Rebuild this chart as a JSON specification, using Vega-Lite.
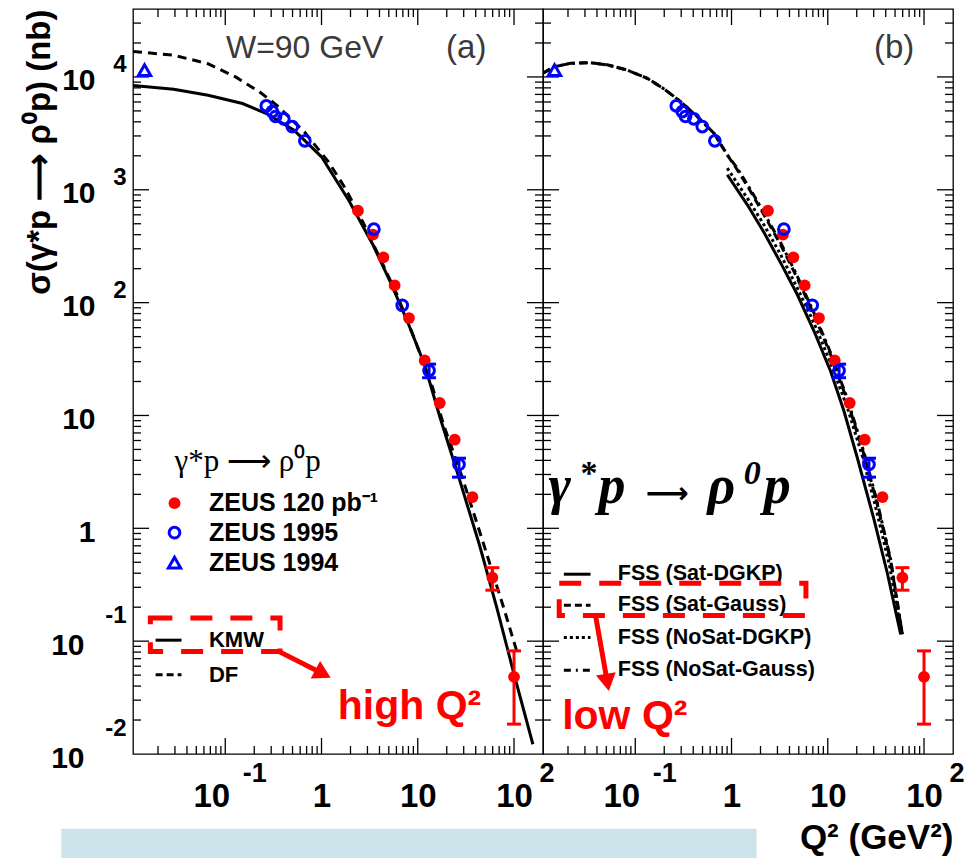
{
  "$schema": "https://vega.github.io/schema/vega-lite/v6.json",
  "padding": {"left": 22, "top": 7, "right": 1, "bottom": 0},
  "background": "white",
  "config": {
    "view": {"stroke": "black", "strokeWidth": 1.3},
    "axis": {"grid": false, "labelFlush": false, "labelOverlap": false, "labelBound": false, "domainColor": "black", "tickColor": "black", "labelColor": "black", "titleColor": "black", "labelFont": "Liberation Sans", "titleFont": "Liberation Sans", "labelFontWeight": "bold", "titleFontWeight": "bold"}
  },
  "datasets": {
    "xmaj": [{"v": 0.1}, {"v": 1}, {"v": 10}, {"v": 100}],
    "xmin": [{"v": 0.02}, {"v": 0.03}, {"v": 0.04}, {"v": 0.05}, {"v": 0.06}, {"v": 0.07}, {"v": 0.08}, {"v": 0.09},
             {"v": 0.2}, {"v": 0.3}, {"v": 0.4}, {"v": 0.5}, {"v": 0.6}, {"v": 0.7}, {"v": 0.8}, {"v": 0.9},
             {"v": 2}, {"v": 3}, {"v": 4}, {"v": 5}, {"v": 6}, {"v": 7}, {"v": 8}, {"v": 9},
             {"v": 20}, {"v": 30}, {"v": 40}, {"v": 50}, {"v": 60}, {"v": 70}, {"v": 80}, {"v": 90}],
    "ymaj": [{"v": 0.1}, {"v": 1}, {"v": 10}, {"v": 100}, {"v": 1000}, {"v": 10000}],
    "ymin": [{"v": 0.02}, {"v": 0.03}, {"v": 0.04}, {"v": 0.05}, {"v": 0.06}, {"v": 0.07}, {"v": 0.08}, {"v": 0.09},
             {"v": 0.2}, {"v": 0.3}, {"v": 0.4}, {"v": 0.5}, {"v": 0.6}, {"v": 0.7}, {"v": 0.8}, {"v": 0.9},
             {"v": 2}, {"v": 3}, {"v": 4}, {"v": 5}, {"v": 6}, {"v": 7}, {"v": 8}, {"v": 9},
             {"v": 20}, {"v": 30}, {"v": 40}, {"v": 50}, {"v": 60}, {"v": 70}, {"v": 80}, {"v": 90},
             {"v": 200}, {"v": 300}, {"v": 400}, {"v": 500}, {"v": 600}, {"v": 700}, {"v": 800}, {"v": 900},
             {"v": 2000}, {"v": 3000}, {"v": 4000}, {"v": 5000}, {"v": 6000}, {"v": 7000}, {"v": 8000}, {"v": 9000},
             {"v": 20000}, {"v": 30000}],
    "z120": [
      {"Q2": 2.39, "sigma": 652}, {"Q2": 3.42, "sigma": 400}, {"Q2": 4.39, "sigma": 252}, {"Q2": 5.75, "sigma": 142},
      {"Q2": 8.1, "sigma": 73}, {"Q2": 11.8, "sigma": 30.7}, {"Q2": 16.9, "sigma": 12.9}, {"Q2": 24.2, "sigma": 6.1},
      {"Q2": 37, "sigma": 1.89}, {"Q2": 59.6, "sigma": 0.366, "lo": 0.283, "hi": 0.448}, {"Q2": 100, "sigma": 0.0483, "lo": 0.0184, "hi": 0.082}
    ],
    "z95": [
      {"Q2": 0.267, "sigma": 5540}, {"Q2": 0.308, "sigma": 4930}, {"Q2": 0.333, "sigma": 4460}, {"Q2": 0.406, "sigma": 4250},
      {"Q2": 0.497, "sigma": 3630}, {"Q2": 0.671, "sigma": 2715}, {"Q2": 3.5, "sigma": 448}, {"Q2": 6.9, "sigma": 94.6},
      {"Q2": 13.1, "sigma": 25, "lo": 21.6, "hi": 28.5}, {"Q2": 26.8, "sigma": 3.68, "lo": 2.84, "hi": 4.18}
    ],
    "z94": [{"Q2": 0.0145, "sigma": 11500}],
    "kmw": [
      {"Q2": 0.011, "sigma": 8400}, {"Q2": 0.0291, "sigma": 7780}, {"Q2": 0.0663, "sigma": 6880}, {"Q2": 0.151, "sigma": 5810},
      {"Q2": 0.268, "sigma": 4740}, {"Q2": 0.518, "sigma": 3370}, {"Q2": 1.0, "sigma": 1960}, {"Q2": 1.93, "sigma": 800},
      {"Q2": 3.43, "sigma": 324}, {"Q2": 5.18, "sigma": 153}, {"Q2": 7.81, "sigma": 68}, {"Q2": 11.8, "sigma": 28},
      {"Q2": 17.1, "sigma": 9.5}, {"Q2": 26.8, "sigma": 2.8}, {"Q2": 44, "sigma": 0.7}, {"Q2": 66, "sigma": 0.2},
      {"Q2": 100, "sigma": 0.051}, {"Q2": 157, "sigma": 0.0122}
    ],
    "df": [
      {"Q2": 0.011, "sigma": 16800}, {"Q2": 0.029, "sigma": 15600}, {"Q2": 0.066, "sigma": 13100}, {"Q2": 0.128, "sigma": 10000},
      {"Q2": 0.228, "sigma": 7360}, {"Q2": 0.343, "sigma": 5610}, {"Q2": 0.663, "sigma": 3260}, {"Q2": 1.18, "sigma": 1770},
      {"Q2": 1.77, "sigma": 1028}, {"Q2": 2.68, "sigma": 521}, {"Q2": 4.05, "sigma": 247}, {"Q2": 6.1, "sigma": 117},
      {"Q2": 9.2, "sigma": 48.3}, {"Q2": 13.9, "sigma": 19}, {"Q2": 18.6, "sigma": 8.2}, {"Q2": 29.1, "sigma": 2.8},
      {"Q2": 47.7, "sigma": 0.75}, {"Q2": 78, "sigma": 0.198}, {"Q2": 109, "sigma": 0.0767}
    ],
    "satgauss": [
      {"Q2": 0.011, "sigma": 10800}, {"Q2": 0.0143, "sigma": 12300}, {"Q2": 0.0213, "sigma": 13200}, {"Q2": 0.033, "sigma": 13400},
      {"Q2": 0.0512, "sigma": 12800}, {"Q2": 0.0826, "sigma": 11500}, {"Q2": 0.133, "sigma": 9730}, {"Q2": 0.199, "sigma": 7830},
      {"Q2": 0.296, "sigma": 6050}, {"Q2": 0.44, "sigma": 4460}, {"Q2": 0.656, "sigma": 3170}, {"Q2": 0.903, "sigma": 2040},
      {"Q2": 1.15, "sigma": 1500}, {"Q2": 1.58, "sigma": 966}, {"Q2": 2.17, "sigma": 601}, {"Q2": 3.24, "sigma": 326},
      {"Q2": 4.82, "sigma": 165}, {"Q2": 7.19, "sigma": 78}, {"Q2": 10.7, "sigma": 34.7}, {"Q2": 16, "sigma": 13.4},
      {"Q2": 23.8, "sigma": 4.5}, {"Q2": 32.7, "sigma": 1.63}, {"Q2": 45, "sigma": 0.514}, {"Q2": 59.5, "sigma": 0.115}
    ],
    "nosatgauss": [
      {"Q2": 0.011, "sigma": 10800}, {"Q2": 0.0143, "sigma": 12300}, {"Q2": 0.0213, "sigma": 13200}, {"Q2": 0.033, "sigma": 13400},
      {"Q2": 0.0512, "sigma": 12800}, {"Q2": 0.0826, "sigma": 11500}, {"Q2": 0.133, "sigma": 9730}, {"Q2": 0.199, "sigma": 7830},
      {"Q2": 0.296, "sigma": 6050}, {"Q2": 0.44, "sigma": 4460}, {"Q2": 0.656, "sigma": 3170}, {"Q2": 0.903, "sigma": 2040},
      {"Q2": 1.15, "sigma": 1550}, {"Q2": 1.58, "sigma": 1000}, {"Q2": 2.17, "sigma": 625}, {"Q2": 3.24, "sigma": 340},
      {"Q2": 4.82, "sigma": 172}, {"Q2": 7.19, "sigma": 81}, {"Q2": 10.7, "sigma": 36}, {"Q2": 16, "sigma": 14},
      {"Q2": 23.8, "sigma": 4.7}, {"Q2": 32.7, "sigma": 1.7}, {"Q2": 45, "sigma": 0.53}, {"Q2": 59.5, "sigma": 0.115}
    ],
    "satdgkp": [
      {"Q2": 0.903, "sigma": 1358}, {"Q2": 1.46, "sigma": 736}, {"Q2": 2.17, "sigma": 420}, {"Q2": 3.24, "sigma": 225},
      {"Q2": 4.82, "sigma": 118}, {"Q2": 7.19, "sigma": 56}, {"Q2": 10.7, "sigma": 24.7}, {"Q2": 14.7, "sigma": 11.0},
      {"Q2": 20.3, "sigma": 4.2}, {"Q2": 30.2, "sigma": 1.2}, {"Q2": 41.6, "sigma": 0.4}, {"Q2": 57.2, "sigma": 0.115}
    ],
    "nosatdgkp": [
      {"Q2": 0.903, "sigma": 1556}, {"Q2": 1.46, "sigma": 843}, {"Q2": 2.17, "sigma": 490}, {"Q2": 3.24, "sigma": 266},
      {"Q2": 4.82, "sigma": 135}, {"Q2": 7.19, "sigma": 66}, {"Q2": 10.7, "sigma": 29.2}, {"Q2": 16, "sigma": 11.7},
      {"Q2": 23, "sigma": 4.3}, {"Q2": 32, "sigma": 1.45}, {"Q2": 44, "sigma": 0.46}, {"Q2": 58.5, "sigma": 0.115}
    ]
  },
  "spacing": 0,
  "bounds": "flush",
  "hconcat": [
    {
      "width": 410, "height": 745,
      "resolve": {"axis": {"x": "independent", "y": "independent"}},
      "layer": [
        {"data": {"name": "z94"}, "mark": {"type": "point", "opacity": 0},
         "encoding": {
           "x": {"field": "Q2", "type": "quantitative", "scale": {"type": "log", "domain": [0.011, 200], "nice": false},
                 "axis": {"orient": "bottom", "values": [0.1, 1, 10, 100], "domain": false, "labels": false, "ticks": false, "title": null}},
           "y": {"field": "sigma", "type": "quantitative", "scale": {"type": "log", "domain": [0.01, 40000], "nice": false},
                 "axis": {"orient": "left", "values": [0.01, 0.1, 1, 10, 100, 1000, 10000], "domain": false, "labels": false, "ticks": false,
                          "title": "σ(γ*p ⟶ ρ⁰p) (nb)", "titleFontSize": 33, "titleAnchor": "end", "titlePadding": 77}}
         }},
        {"data": {"name": "z94"}, "mark": {"type": "point", "opacity": 0},
         "encoding": {
           "x": {"field": "Q2", "type": "quantitative", "scale": {"type": "log", "domain": [0.011, 200], "nice": false},
                 "axis": {"orient": "bottom", "values": [0.1, 1, 10, 100], "domain": false, "ticks": false,
                          "labelExpr": "datum.value == 1 ? '1' : '10'", "labelFontSize": 33, "labelAlign": "center", "labelBaseline": "top", "labelPadding": 26,
                          "labelOffset": {"condition": {"test": "datum.value == 0.1", "value": -14}, "value": 0}, "title": null}},
           "y": {"field": "sigma", "type": "quantitative", "scale": {"type": "log", "domain": [0.01, 40000], "nice": false},
                 "axis": {"orient": "left", "values": [0.01, 0.1, 1, 10, 100, 1000, 10000], "domain": false, "ticks": false,
                          "labelExpr": "datum.value == 1 ? '1' : '10'", "labelFontSize": 30, "labelAlign": "right", "labelBaseline": "middle",
                          "labelPadding": {"condition": {"test": "datum.value < 1", "value": 49}, "value": 38}, "labelOffset": 4, "title": null}}
         }},
        {"data": {"name": "z94"}, "mark": {"type": "point", "opacity": 0},
         "encoding": {
           "x": {"field": "Q2", "type": "quantitative", "scale": {"type": "log", "domain": [0.011, 200], "nice": false},
                 "axis": {"orient": "bottom", "values": [0.1, 100], "domain": false, "ticks": false,
                          "labelExpr": "datum.value == 0.1 ? '-1' : '2'", "labelFontSize": 27, "labelAlign": "left", "labelBaseline": "top", "labelPadding": 6,
                          "labelOffset": {"condition": {"test": "datum.value == 0.1", "value": 17}, "value": 25}, "title": null}},
           "y": {"field": "sigma", "type": "quantitative", "scale": {"type": "log", "domain": [0.01, 40000], "nice": false},
                 "axis": {"orient": "left", "values": [0.01, 0.1, 100, 1000, 10000], "domain": false, "ticks": false,
                          "labelExpr": "datum.value == 0.01 ? '-2' : datum.value == 0.1 ? '-1' : datum.value == 100 ? '2' : datum.value == 1000 ? '3' : '4'",
                          "labelFontSize": 24, "labelAlign": "right", "labelBaseline": "middle", "labelPadding": 7,
                          "labelOffset": {"condition": {"test": "datum.value < 1", "value": -26}, "value": -12}, "title": null}}
         }},
        {"data": {"name": "xmaj"}, "mark": {"type": "rule", "color": "black", "strokeWidth": 1.3},
         "encoding": {"x": {"field": "v", "type": "quantitative", "scale": {"type": "log", "domain": [0.011, 200], "nice": false}, "axis": null},
                      "y": {"datum": 0.01, "type": "quantitative", "scale": {"type": "log", "domain": [0.01, 40000], "nice": false}, "axis": null},
                      "y2": {"datum": 0.01386}}},
        {"data": {"name": "xmin"}, "mark": {"type": "rule", "color": "black", "strokeWidth": 1.3},
         "encoding": {"x": {"field": "v", "type": "quantitative", "scale": {"type": "log", "domain": [0.011, 200], "nice": false}, "axis": null},
                      "y": {"datum": 0.01, "type": "quantitative", "scale": {"type": "log", "domain": [0.01, 40000], "nice": false}, "axis": null},
                      "y2": {"datum": 0.01177}}},
        {"data": {"name": "xmaj"}, "mark": {"type": "rule", "color": "black", "strokeWidth": 1.3},
         "encoding": {"x": {"field": "v", "type": "quantitative", "scale": {"type": "log", "domain": [0.011, 200], "nice": false}, "axis": null},
                      "y": {"datum": 40000, "type": "quantitative", "scale": {"type": "log", "domain": [0.01, 40000], "nice": false}, "axis": null},
                      "y2": {"datum": 28860}}},
        {"data": {"name": "xmin"}, "mark": {"type": "rule", "color": "black", "strokeWidth": 1.3},
         "encoding": {"x": {"field": "v", "type": "quantitative", "scale": {"type": "log", "domain": [0.011, 200], "nice": false}, "axis": null},
                      "y": {"datum": 40000, "type": "quantitative", "scale": {"type": "log", "domain": [0.01, 40000], "nice": false}, "axis": null},
                      "y2": {"datum": 33985}}},
        {"data": {"name": "ymaj"}, "mark": {"type": "rule", "color": "black", "strokeWidth": 1.3},
         "encoding": {"y": {"field": "v", "type": "quantitative", "scale": {"type": "log", "domain": [0.01, 40000], "nice": false}, "axis": null},
                      "x": {"datum": 0.011, "type": "quantitative", "scale": {"type": "log", "domain": [0.011, 200], "nice": false}, "axis": null},
                      "x2": {"datum": 0.01613}}},
        {"data": {"name": "ymin"}, "mark": {"type": "rule", "color": "black", "strokeWidth": 1.3},
         "encoding": {"y": {"field": "v", "type": "quantitative", "scale": {"type": "log", "domain": [0.01, 40000], "nice": false}, "axis": null},
                      "x": {"datum": 0.011, "type": "quantitative", "scale": {"type": "log", "domain": [0.011, 200], "nice": false}, "axis": null},
                      "x2": {"datum": 0.01332}}},
        {"data": {"name": "ymaj"}, "mark": {"type": "rule", "color": "black", "strokeWidth": 1.3},
         "encoding": {"y": {"field": "v", "type": "quantitative", "scale": {"type": "log", "domain": [0.01, 40000], "nice": false}, "axis": null},
                      "x": {"datum": 200, "type": "quantitative", "scale": {"type": "log", "domain": [0.011, 200], "nice": false}, "axis": null},
                      "x2": {"datum": 136.4}}},
        {"data": {"name": "ymin"}, "mark": {"type": "rule", "color": "black", "strokeWidth": 1.3},
         "encoding": {"y": {"field": "v", "type": "quantitative", "scale": {"type": "log", "domain": [0.01, 40000], "nice": false}, "axis": null},
                      "x": {"datum": 200, "type": "quantitative", "scale": {"type": "log", "domain": [0.011, 200], "nice": false}, "axis": null},
                      "x2": {"datum": 165.2}}},
        {"data": {"values": [{}]}, "mark": {"type": "rect", "color": "#cde5ea"},
         "encoding": {
           "x": {"datum": 0.00198, "type": "quantitative", "scale": {"type": "log", "domain": [0.011, 200], "nice": false}, "axis": null},
           "x2": {"datum": 33180},
           "y": {"datum": 0.00218, "type": "quantitative", "scale": {"type": "log", "domain": [0.01, 40000], "nice": false}, "axis": null},
           "y2": {"datum": 0.00116}
         }},
        {"data": {"name": "kmw"}, "mark": {"type": "line", "color": "black", "strokeWidth": 3, "clip": true},
         "encoding": {
           "x": {"field": "Q2", "type": "quantitative", "scale": {"type": "log", "domain": [0.011, 200], "nice": false}, "axis": null},
           "y": {"field": "sigma", "type": "quantitative", "scale": {"type": "log", "domain": [0.01, 40000], "nice": false}, "axis": null}
         }},
        {"data": {"name": "df"}, "mark": {"type": "line", "color": "black", "strokeWidth": 3, "strokeDash": [9, 6], "clip": true},
         "encoding": {
           "x": {"field": "Q2", "type": "quantitative", "scale": {"type": "log", "domain": [0.011, 200], "nice": false}, "axis": null},
           "y": {"field": "sigma", "type": "quantitative", "scale": {"type": "log", "domain": [0.01, 40000], "nice": false}, "axis": null}
         }},
        {"data": {"name": "z120"}, "transform": [{"filter": "datum.lo != null"}], "mark": {"type": "rule", "color": "#ff0000", "strokeWidth": 3},
         "encoding": {
           "x": {"field": "Q2", "type": "quantitative", "scale": {"type": "log", "domain": [0.011, 200], "nice": false}, "axis": null},
           "y": {"field": "lo", "type": "quantitative", "scale": {"type": "log", "domain": [0.01, 40000], "nice": false}, "axis": null},
           "y2": {"field": "hi"}
         }},
        {"data": {"name": "z120"}, "transform": [{"filter": "datum.lo != null"}], "mark": {"type": "tick", "orient": "horizontal", "color": "#ff0000", "size": 14, "thickness": 3, "opacity": 1},
         "encoding": {
           "x": {"field": "Q2", "type": "quantitative", "scale": {"type": "log", "domain": [0.011, 200], "nice": false}, "axis": null},
           "y": {"field": "lo", "type": "quantitative", "scale": {"type": "log", "domain": [0.01, 40000], "nice": false}, "axis": null}
         }},
        {"data": {"name": "z120"}, "transform": [{"filter": "datum.lo != null"}], "mark": {"type": "tick", "orient": "horizontal", "color": "#ff0000", "size": 14, "thickness": 3, "opacity": 1},
         "encoding": {
           "x": {"field": "Q2", "type": "quantitative", "scale": {"type": "log", "domain": [0.011, 200], "nice": false}, "axis": null},
           "y": {"field": "hi", "type": "quantitative", "scale": {"type": "log", "domain": [0.01, 40000], "nice": false}, "axis": null}
         }},
        {"data": {"name": "z95"}, "transform": [{"filter": "datum.lo != null"}], "mark": {"type": "rule", "color": "#0000ff", "strokeWidth": 3},
         "encoding": {
           "x": {"field": "Q2", "type": "quantitative", "scale": {"type": "log", "domain": [0.011, 200], "nice": false}, "axis": null},
           "y": {"field": "lo", "type": "quantitative", "scale": {"type": "log", "domain": [0.01, 40000], "nice": false}, "axis": null},
           "y2": {"field": "hi"}
         }},
        {"data": {"name": "z95"}, "transform": [{"filter": "datum.lo != null"}], "mark": {"type": "tick", "orient": "horizontal", "color": "#0000ff", "size": 14, "thickness": 3, "opacity": 1},
         "encoding": {
           "x": {"field": "Q2", "type": "quantitative", "scale": {"type": "log", "domain": [0.011, 200], "nice": false}, "axis": null},
           "y": {"field": "lo", "type": "quantitative", "scale": {"type": "log", "domain": [0.01, 40000], "nice": false}, "axis": null}
         }},
        {"data": {"name": "z95"}, "transform": [{"filter": "datum.lo != null"}], "mark": {"type": "tick", "orient": "horizontal", "color": "#0000ff", "size": 14, "thickness": 3, "opacity": 1},
         "encoding": {
           "x": {"field": "Q2", "type": "quantitative", "scale": {"type": "log", "domain": [0.011, 200], "nice": false}, "axis": null},
           "y": {"field": "hi", "type": "quantitative", "scale": {"type": "log", "domain": [0.01, 40000], "nice": false}, "axis": null}
         }},
        {"data": {"name": "z120"}, "mark": {"type": "point", "shape": "circle", "filled": true, "color": "#ff0000", "size": 140, "opacity": 1},
         "encoding": {
           "x": {"field": "Q2", "type": "quantitative", "scale": {"type": "log", "domain": [0.011, 200], "nice": false}, "axis": null},
           "y": {"field": "sigma", "type": "quantitative", "scale": {"type": "log", "domain": [0.01, 40000], "nice": false}, "axis": null}
         }},
        {"data": {"name": "z95"}, "mark": {"type": "point", "shape": "circle", "filled": false, "color": "#0000ff", "strokeWidth": 3, "size": 115, "opacity": 1},
         "encoding": {
           "x": {"field": "Q2", "type": "quantitative", "scale": {"type": "log", "domain": [0.011, 200], "nice": false}, "axis": null},
           "y": {"field": "sigma", "type": "quantitative", "scale": {"type": "log", "domain": [0.01, 40000], "nice": false}, "axis": null}
         }},
        {"data": {"name": "z94"}, "mark": {"type": "point", "shape": "triangle-up", "filled": false, "color": "#0000ff", "strokeWidth": 3, "size": 150, "opacity": 1},
         "encoding": {
           "x": {"field": "Q2", "type": "quantitative", "scale": {"type": "log", "domain": [0.011, 200], "nice": false}, "axis": null},
           "y": {"field": "sigma", "type": "quantitative", "scale": {"type": "log", "domain": [0.01, 40000], "nice": false}, "axis": null}
         }},
        {"data": {"values": [{}]}, "mark": {"type": "text", "text": "W=90 GeV", "font": "Liberation Sans", "fontSize": 32, "align": "left", "baseline": "alphabetic", "color": "#3a3a3a"},
         "encoding": {"x": {"datum": 0.1016, "type": "quantitative", "scale": {"type": "log", "domain": [0.011, 200], "nice": false}, "axis": null},
                      "y": {"datum": 14800, "type": "quantitative", "scale": {"type": "log", "domain": [0.01, 40000], "nice": false}, "axis": null}}},
        {"data": {"values": [{}]}, "mark": {"type": "text", "text": "(a)", "font": "Liberation Sans", "fontSize": 33, "align": "left", "baseline": "alphabetic", "color": "#3a3a3a"},
         "encoding": {"x": {"datum": 19.7, "type": "quantitative", "scale": {"type": "log", "domain": [0.011, 200], "nice": false}, "axis": null},
                      "y": {"datum": 14800, "type": "quantitative", "scale": {"type": "log", "domain": [0.01, 40000], "nice": false}, "axis": null}}},
        {"data": {"values": [{}]}, "mark": {"type": "text", "text": "γ*p ⟶ ρ⁰p", "font": "Liberation Serif", "fontSize": 31, "align": "left", "baseline": "alphabetic", "color": "black"},
         "encoding": {"x": {"datum": 0.0297, "type": "quantitative", "scale": {"type": "log", "domain": [0.011, 200], "nice": false}, "axis": null},
                      "y": {"datum": 3.21, "type": "quantitative", "scale": {"type": "log", "domain": [0.01, 40000], "nice": false}, "axis": null}}},
        {"data": {"values": [{}]}, "mark": {"type": "point", "shape": "circle", "filled": true, "color": "#ff0000", "size": 140, "opacity": 1},
         "encoding": {"x": {"datum": 0.0297, "type": "quantitative", "scale": {"type": "log", "domain": [0.011, 200], "nice": false}, "axis": null},
                      "y": {"datum": 1.67, "type": "quantitative", "scale": {"type": "log", "domain": [0.01, 40000], "nice": false}, "axis": null}}},
        {"data": {"values": [{}]}, "mark": {"type": "point", "shape": "circle", "filled": false, "color": "#0000ff", "strokeWidth": 3, "size": 115, "opacity": 1},
         "encoding": {"x": {"datum": 0.0297, "type": "quantitative", "scale": {"type": "log", "domain": [0.011, 200], "nice": false}, "axis": null},
                      "y": {"datum": 0.914, "type": "quantitative", "scale": {"type": "log", "domain": [0.01, 40000], "nice": false}, "axis": null}}},
        {"data": {"values": [{}]}, "mark": {"type": "point", "shape": "triangle-up", "filled": false, "color": "#0000ff", "strokeWidth": 3, "size": 150, "opacity": 1},
         "encoding": {"x": {"datum": 0.0297, "type": "quantitative", "scale": {"type": "log", "domain": [0.011, 200], "nice": false}, "axis": null},
                      "y": {"datum": 0.497, "type": "quantitative", "scale": {"type": "log", "domain": [0.01, 40000], "nice": false}, "axis": null}}},
        {"data": {"values": [{}]}, "mark": {"type": "text", "text": "ZEUS 120 pb⁻¹", "font": "Liberation Sans", "fontWeight": "bold", "fontSize": 25, "align": "left", "baseline": "middle", "color": "black"},
         "encoding": {"x": {"datum": 0.0677, "type": "quantitative", "scale": {"type": "log", "domain": [0.011, 200], "nice": false}, "axis": null},
                      "y": {"datum": 1.67, "type": "quantitative", "scale": {"type": "log", "domain": [0.01, 40000], "nice": false}, "axis": null}}},
        {"data": {"values": [{}]}, "mark": {"type": "text", "text": "ZEUS 1995", "font": "Liberation Sans", "fontWeight": "bold", "fontSize": 25, "align": "left", "baseline": "middle", "color": "black"},
         "encoding": {"x": {"datum": 0.0677, "type": "quantitative", "scale": {"type": "log", "domain": [0.011, 200], "nice": false}, "axis": null},
                      "y": {"datum": 0.914, "type": "quantitative", "scale": {"type": "log", "domain": [0.01, 40000], "nice": false}, "axis": null}}},
        {"data": {"values": [{}]}, "mark": {"type": "text", "text": "ZEUS 1994", "font": "Liberation Sans", "fontWeight": "bold", "fontSize": 25, "align": "left", "baseline": "middle", "color": "black"},
         "encoding": {"x": {"datum": 0.0677, "type": "quantitative", "scale": {"type": "log", "domain": [0.011, 200], "nice": false}, "axis": null},
                      "y": {"datum": 0.497, "type": "quantitative", "scale": {"type": "log", "domain": [0.01, 40000], "nice": false}, "axis": null}}},
        {"data": {"values": [{}]}, "mark": {"type": "rule", "color": "black", "strokeWidth": 3},
         "encoding": {"x": {"datum": 0.0189, "type": "quantitative", "scale": {"type": "log", "domain": [0.011, 200], "nice": false}, "axis": null},
                      "x2": {"datum": 0.0351},
                      "y": {"datum": 0.102, "type": "quantitative", "scale": {"type": "log", "domain": [0.01, 40000], "nice": false}, "axis": null}}},
        {"data": {"values": [{}]}, "mark": {"type": "text", "text": "KMW", "font": "Liberation Sans", "fontWeight": "bold", "fontSize": 22, "align": "left", "baseline": "middle", "color": "black"},
         "encoding": {"x": {"datum": 0.0677, "type": "quantitative", "scale": {"type": "log", "domain": [0.011, 200], "nice": false}, "axis": null},
                      "y": {"datum": 0.102, "type": "quantitative", "scale": {"type": "log", "domain": [0.01, 40000], "nice": false}, "axis": null}}},
        {"data": {"values": [{}]}, "mark": {"type": "rule", "color": "black", "strokeWidth": 3, "strokeDash": [7, 4]},
         "encoding": {"x": {"datum": 0.0189, "type": "quantitative", "scale": {"type": "log", "domain": [0.011, 200], "nice": false}, "axis": null},
                      "x2": {"datum": 0.0351},
                      "y": {"datum": 0.0503, "type": "quantitative", "scale": {"type": "log", "domain": [0.01, 40000], "nice": false}, "axis": null}}},
        {"data": {"values": [{}]}, "mark": {"type": "text", "text": "DF", "font": "Liberation Sans", "fontWeight": "bold", "fontSize": 22, "align": "left", "baseline": "middle", "color": "black"},
         "encoding": {"x": {"datum": 0.0677, "type": "quantitative", "scale": {"type": "log", "domain": [0.011, 200], "nice": false}, "axis": null},
                      "y": {"datum": 0.0503, "type": "quantitative", "scale": {"type": "log", "domain": [0.01, 40000], "nice": false}, "axis": null}}},
        {"data": {"values": [{}]}, "mark": {"type": "rect", "filled": false, "color": "#ff0000", "strokeWidth": 5, "strokeDash": [22, 18]},
         "encoding": {"x": {"datum": 0.01667, "type": "quantitative", "scale": {"type": "log", "domain": [0.011, 200], "nice": false}, "axis": null},
                      "x2": {"datum": 0.3707},
                      "y": {"datum": 0.16, "type": "quantitative", "scale": {"type": "log", "domain": [0.01, 40000], "nice": false}, "axis": null},
                      "y2": {"datum": 0.0809}}},
        {"data": {"values": [{}]}, "mark": {"type": "rule", "color": "#ff0000", "strokeWidth": 5},
         "encoding": {"x": {"datum": 0.35, "type": "quantitative", "scale": {"type": "log", "domain": [0.011, 200], "nice": false}, "axis": null},
                      "x2": {"datum": 1.037},
                      "y": {"datum": 0.082, "type": "quantitative", "scale": {"type": "log", "domain": [0.01, 40000], "nice": false}, "axis": null},
                      "y2": {"datum": 0.0514}}},
        {"data": {"values": [{}]}, "mark": {"type": "point", "shape": "triangle-up", "filled": true, "color": "#ff0000", "size": 400, "angle": 118, "opacity": 1},
         "encoding": {"x": {"datum": 1.037, "type": "quantitative", "scale": {"type": "log", "domain": [0.011, 200], "nice": false}, "axis": null},
                      "y": {"datum": 0.0514, "type": "quantitative", "scale": {"type": "log", "domain": [0.01, 40000], "nice": false}, "axis": null}}},
        {"data": {"values": [{}]}, "mark": {"type": "text", "text": "high Q²", "font": "Liberation Sans", "fontWeight": "bold", "fontSize": 41, "align": "left", "baseline": "alphabetic", "color": "#ff0000"},
         "encoding": {"x": {"datum": 1.476, "type": "quantitative", "scale": {"type": "log", "domain": [0.011, 200], "nice": false}, "axis": null},
                      "y": {"datum": 0.0205, "type": "quantitative", "scale": {"type": "log", "domain": [0.01, 40000], "nice": false}, "axis": null}}}
      ]
    },
    {
      "width": 410, "height": 745,
      "resolve": {"axis": {"x": "independent", "y": "independent"}},
      "layer": [
        {"data": {"name": "z94"}, "mark": {"type": "point", "opacity": 0},
         "encoding": {
           "x": {"field": "Q2", "type": "quantitative", "scale": {"type": "log", "domain": [0.011, 200], "nice": false},
                 "axis": {"orient": "bottom", "values": [0.1, 1, 10, 100], "domain": false, "labels": false, "ticks": false,
                          "title": "Q² (GeV²)", "titleFontSize": 35, "titleAnchor": "end", "titleBaseline": "top", "titlePadding": 66}},
           "y": {"field": "sigma", "type": "quantitative", "scale": {"type": "log", "domain": [0.01, 40000], "nice": false}, "axis": null}
         }},
        {"data": {"name": "z94"}, "mark": {"type": "point", "opacity": 0},
         "encoding": {
           "x": {"field": "Q2", "type": "quantitative", "scale": {"type": "log", "domain": [0.011, 200], "nice": false},
                 "axis": {"orient": "bottom", "values": [0.1, 1, 10, 100], "domain": false, "ticks": false,
                          "labelExpr": "datum.value == 1 ? '1' : '10'", "labelFontSize": 33, "labelAlign": "center", "labelBaseline": "top", "labelPadding": 26,
                          "labelOffset": {"condition": {"test": "datum.value == 0.1", "value": -14}, "value": 0}, "title": null}},
           "y": {"field": "sigma", "type": "quantitative", "scale": {"type": "log", "domain": [0.01, 40000], "nice": false}, "axis": null}
         }},
        {"data": {"name": "z94"}, "mark": {"type": "point", "opacity": 0},
         "encoding": {
           "x": {"field": "Q2", "type": "quantitative", "scale": {"type": "log", "domain": [0.011, 200], "nice": false},
                 "axis": {"orient": "bottom", "values": [0.1, 100], "domain": false, "ticks": false,
                          "labelExpr": "datum.value == 0.1 ? '-1' : '2'", "labelFontSize": 27, "labelAlign": "left", "labelBaseline": "top", "labelPadding": 6,
                          "labelOffset": {"condition": {"test": "datum.value == 0.1", "value": 17}, "value": 25}, "title": null}},
           "y": {"field": "sigma", "type": "quantitative", "scale": {"type": "log", "domain": [0.01, 40000], "nice": false}, "axis": null}
         }},
        {"data": {"name": "xmaj"}, "mark": {"type": "rule", "color": "black", "strokeWidth": 1.3},
         "encoding": {"x": {"field": "v", "type": "quantitative", "scale": {"type": "log", "domain": [0.011, 200], "nice": false}, "axis": null},
                      "y": {"datum": 0.01, "type": "quantitative", "scale": {"type": "log", "domain": [0.01, 40000], "nice": false}, "axis": null},
                      "y2": {"datum": 0.01386}}},
        {"data": {"name": "xmin"}, "mark": {"type": "rule", "color": "black", "strokeWidth": 1.3},
         "encoding": {"x": {"field": "v", "type": "quantitative", "scale": {"type": "log", "domain": [0.011, 200], "nice": false}, "axis": null},
                      "y": {"datum": 0.01, "type": "quantitative", "scale": {"type": "log", "domain": [0.01, 40000], "nice": false}, "axis": null},
                      "y2": {"datum": 0.01177}}},
        {"data": {"name": "xmaj"}, "mark": {"type": "rule", "color": "black", "strokeWidth": 1.3},
         "encoding": {"x": {"field": "v", "type": "quantitative", "scale": {"type": "log", "domain": [0.011, 200], "nice": false}, "axis": null},
                      "y": {"datum": 40000, "type": "quantitative", "scale": {"type": "log", "domain": [0.01, 40000], "nice": false}, "axis": null},
                      "y2": {"datum": 28860}}},
        {"data": {"name": "xmin"}, "mark": {"type": "rule", "color": "black", "strokeWidth": 1.3},
         "encoding": {"x": {"field": "v", "type": "quantitative", "scale": {"type": "log", "domain": [0.011, 200], "nice": false}, "axis": null},
                      "y": {"datum": 40000, "type": "quantitative", "scale": {"type": "log", "domain": [0.01, 40000], "nice": false}, "axis": null},
                      "y2": {"datum": 33985}}},
        {"data": {"name": "ymaj"}, "mark": {"type": "rule", "color": "black", "strokeWidth": 1.3},
         "encoding": {"y": {"field": "v", "type": "quantitative", "scale": {"type": "log", "domain": [0.01, 40000], "nice": false}, "axis": null},
                      "x": {"datum": 0.011, "type": "quantitative", "scale": {"type": "log", "domain": [0.011, 200], "nice": false}, "axis": null},
                      "x2": {"datum": 0.01613}}},
        {"data": {"name": "ymin"}, "mark": {"type": "rule", "color": "black", "strokeWidth": 1.3},
         "encoding": {"y": {"field": "v", "type": "quantitative", "scale": {"type": "log", "domain": [0.01, 40000], "nice": false}, "axis": null},
                      "x": {"datum": 0.011, "type": "quantitative", "scale": {"type": "log", "domain": [0.011, 200], "nice": false}, "axis": null},
                      "x2": {"datum": 0.01332}}},
        {"data": {"name": "ymaj"}, "mark": {"type": "rule", "color": "black", "strokeWidth": 1.3},
         "encoding": {"y": {"field": "v", "type": "quantitative", "scale": {"type": "log", "domain": [0.01, 40000], "nice": false}, "axis": null},
                      "x": {"datum": 200, "type": "quantitative", "scale": {"type": "log", "domain": [0.011, 200], "nice": false}, "axis": null},
                      "x2": {"datum": 136.4}}},
        {"data": {"name": "ymin"}, "mark": {"type": "rule", "color": "black", "strokeWidth": 1.3},
         "encoding": {"y": {"field": "v", "type": "quantitative", "scale": {"type": "log", "domain": [0.01, 40000], "nice": false}, "axis": null},
                      "x": {"datum": 200, "type": "quantitative", "scale": {"type": "log", "domain": [0.011, 200], "nice": false}, "axis": null},
                      "x2": {"datum": 165.2}}},
        {"data": {"name": "satdgkp"}, "mark": {"type": "line", "color": "black", "strokeWidth": 3, "clip": true},
         "encoding": {
           "x": {"field": "Q2", "type": "quantitative", "scale": {"type": "log", "domain": [0.011, 200], "nice": false}, "axis": null},
           "y": {"field": "sigma", "type": "quantitative", "scale": {"type": "log", "domain": [0.01, 40000], "nice": false}, "axis": null}
         }},
        {"data": {"name": "nosatdgkp"}, "mark": {"type": "line", "color": "black", "strokeWidth": 3, "strokeDash": [3, 3], "clip": true},
         "encoding": {
           "x": {"field": "Q2", "type": "quantitative", "scale": {"type": "log", "domain": [0.011, 200], "nice": false}, "axis": null},
           "y": {"field": "sigma", "type": "quantitative", "scale": {"type": "log", "domain": [0.01, 40000], "nice": false}, "axis": null}
         }},
        {"data": {"name": "satgauss"}, "mark": {"type": "line", "color": "black", "strokeWidth": 3, "strokeDash": [8, 5], "clip": true},
         "encoding": {
           "x": {"field": "Q2", "type": "quantitative", "scale": {"type": "log", "domain": [0.011, 200], "nice": false}, "axis": null},
           "y": {"field": "sigma", "type": "quantitative", "scale": {"type": "log", "domain": [0.01, 40000], "nice": false}, "axis": null}
         }},
        {"data": {"name": "nosatgauss"}, "mark": {"type": "line", "color": "black", "strokeWidth": 3, "strokeDash": [8, 4, 3, 4], "clip": true},
         "encoding": {
           "x": {"field": "Q2", "type": "quantitative", "scale": {"type": "log", "domain": [0.011, 200], "nice": false}, "axis": null},
           "y": {"field": "sigma", "type": "quantitative", "scale": {"type": "log", "domain": [0.01, 40000], "nice": false}, "axis": null}
         }},
        {"data": {"name": "z120"}, "transform": [{"filter": "datum.lo != null"}], "mark": {"type": "rule", "color": "#ff0000", "strokeWidth": 3},
         "encoding": {
           "x": {"field": "Q2", "type": "quantitative", "scale": {"type": "log", "domain": [0.011, 200], "nice": false}, "axis": null},
           "y": {"field": "lo", "type": "quantitative", "scale": {"type": "log", "domain": [0.01, 40000], "nice": false}, "axis": null},
           "y2": {"field": "hi"}
         }},
        {"data": {"name": "z120"}, "transform": [{"filter": "datum.lo != null"}], "mark": {"type": "tick", "orient": "horizontal", "color": "#ff0000", "size": 14, "thickness": 3, "opacity": 1},
         "encoding": {
           "x": {"field": "Q2", "type": "quantitative", "scale": {"type": "log", "domain": [0.011, 200], "nice": false}, "axis": null},
           "y": {"field": "lo", "type": "quantitative", "scale": {"type": "log", "domain": [0.01, 40000], "nice": false}, "axis": null}
         }},
        {"data": {"name": "z120"}, "transform": [{"filter": "datum.lo != null"}], "mark": {"type": "tick", "orient": "horizontal", "color": "#ff0000", "size": 14, "thickness": 3, "opacity": 1},
         "encoding": {
           "x": {"field": "Q2", "type": "quantitative", "scale": {"type": "log", "domain": [0.011, 200], "nice": false}, "axis": null},
           "y": {"field": "hi", "type": "quantitative", "scale": {"type": "log", "domain": [0.01, 40000], "nice": false}, "axis": null}
         }},
        {"data": {"name": "z95"}, "transform": [{"filter": "datum.lo != null"}], "mark": {"type": "rule", "color": "#0000ff", "strokeWidth": 3},
         "encoding": {
           "x": {"field": "Q2", "type": "quantitative", "scale": {"type": "log", "domain": [0.011, 200], "nice": false}, "axis": null},
           "y": {"field": "lo", "type": "quantitative", "scale": {"type": "log", "domain": [0.01, 40000], "nice": false}, "axis": null},
           "y2": {"field": "hi"}
         }},
        {"data": {"name": "z95"}, "transform": [{"filter": "datum.lo != null"}], "mark": {"type": "tick", "orient": "horizontal", "color": "#0000ff", "size": 14, "thickness": 3, "opacity": 1},
         "encoding": {
           "x": {"field": "Q2", "type": "quantitative", "scale": {"type": "log", "domain": [0.011, 200], "nice": false}, "axis": null},
           "y": {"field": "lo", "type": "quantitative", "scale": {"type": "log", "domain": [0.01, 40000], "nice": false}, "axis": null}
         }},
        {"data": {"name": "z95"}, "transform": [{"filter": "datum.lo != null"}], "mark": {"type": "tick", "orient": "horizontal", "color": "#0000ff", "size": 14, "thickness": 3, "opacity": 1},
         "encoding": {
           "x": {"field": "Q2", "type": "quantitative", "scale": {"type": "log", "domain": [0.011, 200], "nice": false}, "axis": null},
           "y": {"field": "hi", "type": "quantitative", "scale": {"type": "log", "domain": [0.01, 40000], "nice": false}, "axis": null}
         }},
        {"data": {"name": "z120"}, "mark": {"type": "point", "shape": "circle", "filled": true, "color": "#ff0000", "size": 140, "opacity": 1},
         "encoding": {
           "x": {"field": "Q2", "type": "quantitative", "scale": {"type": "log", "domain": [0.011, 200], "nice": false}, "axis": null},
           "y": {"field": "sigma", "type": "quantitative", "scale": {"type": "log", "domain": [0.01, 40000], "nice": false}, "axis": null}
         }},
        {"data": {"name": "z95"}, "mark": {"type": "point", "shape": "circle", "filled": false, "color": "#0000ff", "strokeWidth": 3, "size": 115, "opacity": 1},
         "encoding": {
           "x": {"field": "Q2", "type": "quantitative", "scale": {"type": "log", "domain": [0.011, 200], "nice": false}, "axis": null},
           "y": {"field": "sigma", "type": "quantitative", "scale": {"type": "log", "domain": [0.01, 40000], "nice": false}, "axis": null}
         }},
        {"data": {"name": "z94"}, "mark": {"type": "point", "shape": "triangle-up", "filled": false, "color": "#0000ff", "strokeWidth": 3, "size": 150, "opacity": 1},
         "encoding": {
           "x": {"field": "Q2", "type": "quantitative", "scale": {"type": "log", "domain": [0.011, 200], "nice": false}, "axis": null},
           "y": {"field": "sigma", "type": "quantitative", "scale": {"type": "log", "domain": [0.01, 40000], "nice": false}, "axis": null}
         }},
        {"data": {"values": [{}]}, "mark": {"type": "text", "text": "(b)", "font": "Liberation Sans", "fontSize": 33, "align": "left", "baseline": "alphabetic", "color": "#3a3a3a"},
         "encoding": {"x": {"datum": 30.2, "type": "quantitative", "scale": {"type": "log", "domain": [0.011, 200], "nice": false}, "axis": null},
                      "y": {"datum": 14800, "type": "quantitative", "scale": {"type": "log", "domain": [0.01, 40000], "nice": false}, "axis": null}}},
        {"data": {"values": [{}]}, "mark": {"type": "text", "text": "γ", "font": "Liberation Serif", "fontWeight": "bold", "fontStyle": "italic", "fontSize": 54, "align": "left", "baseline": "alphabetic", "color": "black"},
         "encoding": {"x": {"datum": 0.01256, "type": "quantitative", "scale": {"type": "log", "domain": [0.011, 200], "nice": false}, "axis": null},
                      "y": {"datum": 1.68, "type": "quantitative", "scale": {"type": "log", "domain": [0.01, 40000], "nice": false}, "axis": null}}},
        {"data": {"values": [{}]}, "mark": {"type": "text", "text": "*", "font": "Liberation Serif", "fontWeight": "bold", "fontSize": 34, "align": "left", "baseline": "top", "color": "black"},
         "encoding": {"x": {"datum": 0.027, "type": "quantitative", "scale": {"type": "log", "domain": [0.011, 200], "nice": false}, "axis": null},
                      "y": {"datum": 4.28, "type": "quantitative", "scale": {"type": "log", "domain": [0.01, 40000], "nice": false}, "axis": null}}},
        {"data": {"values": [{}]}, "mark": {"type": "text", "text": "p", "font": "Liberation Serif", "fontWeight": "bold", "fontStyle": "italic", "fontSize": 54, "align": "left", "baseline": "alphabetic", "color": "black"},
         "encoding": {"x": {"datum": 0.04154, "type": "quantitative", "scale": {"type": "log", "domain": [0.011, 200], "nice": false}, "axis": null},
                      "y": {"datum": 1.68, "type": "quantitative", "scale": {"type": "log", "domain": [0.01, 40000], "nice": false}, "axis": null}}},
        {"data": {"values": [{}]}, "mark": {"type": "text", "text": "⟶", "font": "DejaVu Sans", "fontWeight": "bold", "fontSize": 30, "align": "left", "baseline": "alphabetic", "color": "black"},
         "encoding": {"x": {"datum": 0.128, "type": "quantitative", "scale": {"type": "log", "domain": [0.011, 200], "nice": false}, "axis": null},
                      "y": {"datum": 1.68, "type": "quantitative", "scale": {"type": "log", "domain": [0.01, 40000], "nice": false}, "axis": null}}},
        {"data": {"values": [{}]}, "mark": {"type": "text", "text": "ρ", "font": "Liberation Serif", "fontWeight": "bold", "fontStyle": "italic", "fontSize": 54, "align": "left", "baseline": "alphabetic", "color": "black"},
         "encoding": {"x": {"datum": 0.5644, "type": "quantitative", "scale": {"type": "log", "domain": [0.011, 200], "nice": false}, "axis": null},
                      "y": {"datum": 1.68, "type": "quantitative", "scale": {"type": "log", "domain": [0.01, 40000], "nice": false}, "axis": null}}},
        {"data": {"values": [{}]}, "mark": {"type": "text", "text": "0", "font": "Liberation Serif", "fontWeight": "bold", "fontStyle": "italic", "fontSize": 34, "align": "left", "baseline": "top", "color": "black"},
         "encoding": {"x": {"datum": 1.336, "type": "quantitative", "scale": {"type": "log", "domain": [0.011, 200], "nice": false}, "axis": null},
                      "y": {"datum": 4.28, "type": "quantitative", "scale": {"type": "log", "domain": [0.01, 40000], "nice": false}, "axis": null}}},
        {"data": {"values": [{}]}, "mark": {"type": "text", "text": "p", "font": "Liberation Serif", "fontWeight": "bold", "fontStyle": "italic", "fontSize": 54, "align": "left", "baseline": "alphabetic", "color": "black"},
         "encoding": {"x": {"datum": 2.16, "type": "quantitative", "scale": {"type": "log", "domain": [0.011, 200], "nice": false}, "axis": null},
                      "y": {"datum": 1.68, "type": "quantitative", "scale": {"type": "log", "domain": [0.01, 40000], "nice": false}, "axis": null}}},
        {"data": {"values": [{}]}, "mark": {"type": "rule", "color": "black", "strokeWidth": 3},
         "encoding": {"x": {"datum": 0.01812, "type": "quantitative", "scale": {"type": "log", "domain": [0.011, 200], "nice": false}, "axis": null},
                      "x2": {"datum": 0.0343},
                      "y": {"datum": 0.392, "type": "quantitative", "scale": {"type": "log", "domain": [0.01, 40000], "nice": false}, "axis": null}}},
        {"data": {"values": [{}]}, "mark": {"type": "rule", "color": "black", "strokeWidth": 3, "strokeDash": [7, 4]},
         "encoding": {"x": {"datum": 0.01812, "type": "quantitative", "scale": {"type": "log", "domain": [0.011, 200], "nice": false}, "axis": null},
                      "x2": {"datum": 0.0343},
                      "y": {"datum": 0.2085, "type": "quantitative", "scale": {"type": "log", "domain": [0.01, 40000], "nice": false}, "axis": null}}},
        {"data": {"values": [{}]}, "mark": {"type": "rule", "color": "black", "strokeWidth": 3, "strokeDash": [3, 3]},
         "encoding": {"x": {"datum": 0.01812, "type": "quantitative", "scale": {"type": "log", "domain": [0.011, 200], "nice": false}, "axis": null},
                      "x2": {"datum": 0.0343},
                      "y": {"datum": 0.1076, "type": "quantitative", "scale": {"type": "log", "domain": [0.01, 40000], "nice": false}, "axis": null}}},
        {"data": {"values": [{}]}, "mark": {"type": "rule", "color": "black", "strokeWidth": 3, "strokeDash": [7, 5, 2, 5]},
         "encoding": {"x": {"datum": 0.01812, "type": "quantitative", "scale": {"type": "log", "domain": [0.011, 200], "nice": false}, "axis": null},
                      "x2": {"datum": 0.0343},
                      "y": {"datum": 0.0553, "type": "quantitative", "scale": {"type": "log", "domain": [0.01, 40000], "nice": false}, "axis": null}}},
        {"data": {"values": [{}]}, "mark": {"type": "text", "text": "FSS (Sat-DGKP)", "font": "Liberation Sans", "fontWeight": "bold", "fontSize": 21.5, "align": "left", "baseline": "middle", "color": "black"},
         "encoding": {"x": {"datum": 0.0659, "type": "quantitative", "scale": {"type": "log", "domain": [0.011, 200], "nice": false}, "axis": null},
                      "y": {"datum": 0.392, "type": "quantitative", "scale": {"type": "log", "domain": [0.01, 40000], "nice": false}, "axis": null}}},
        {"data": {"values": [{}]}, "mark": {"type": "text", "text": "FSS (Sat-Gauss)", "font": "Liberation Sans", "fontWeight": "bold", "fontSize": 21.5, "align": "left", "baseline": "middle", "color": "black"},
         "encoding": {"x": {"datum": 0.0659, "type": "quantitative", "scale": {"type": "log", "domain": [0.011, 200], "nice": false}, "axis": null},
                      "y": {"datum": 0.2085, "type": "quantitative", "scale": {"type": "log", "domain": [0.01, 40000], "nice": false}, "axis": null}}},
        {"data": {"values": [{}]}, "mark": {"type": "text", "text": "FSS (NoSat-DGKP)", "font": "Liberation Sans", "fontWeight": "bold", "fontSize": 21.5, "align": "left", "baseline": "middle", "color": "black"},
         "encoding": {"x": {"datum": 0.0659, "type": "quantitative", "scale": {"type": "log", "domain": [0.011, 200], "nice": false}, "axis": null},
                      "y": {"datum": 0.1076, "type": "quantitative", "scale": {"type": "log", "domain": [0.01, 40000], "nice": false}, "axis": null}}},
        {"data": {"values": [{}]}, "mark": {"type": "text", "text": "FSS (NoSat-Gauss)", "font": "Liberation Sans", "fontWeight": "bold", "fontSize": 21.5, "align": "left", "baseline": "middle", "color": "black"},
         "encoding": {"x": {"datum": 0.0659, "type": "quantitative", "scale": {"type": "log", "domain": [0.011, 200], "nice": false}, "axis": null},
                      "y": {"datum": 0.0553, "type": "quantitative", "scale": {"type": "log", "domain": [0.01, 40000], "nice": false}, "axis": null}}},
        {"data": {"values": [{}]}, "mark": {"type": "rect", "filled": false, "color": "#ff0000", "strokeWidth": 5, "strokeDash": [22, 18]},
         "encoding": {"x": {"datum": 0.01622, "type": "quantitative", "scale": {"type": "log", "domain": [0.011, 200], "nice": false}, "axis": null},
                      "x2": {"datum": 5.93},
                      "y": {"datum": 0.326, "type": "quantitative", "scale": {"type": "log", "domain": [0.01, 40000], "nice": false}, "axis": null},
                      "y2": {"datum": 0.1687}}},
        {"data": {"values": [{}]}, "mark": {"type": "rule", "color": "#ff0000", "strokeWidth": 5},
         "encoding": {"x": {"datum": 0.0387, "type": "quantitative", "scale": {"type": "log", "domain": [0.011, 200], "nice": false}, "axis": null},
                      "x2": {"datum": 0.0513},
                      "y": {"datum": 0.1675, "type": "quantitative", "scale": {"type": "log", "domain": [0.01, 40000], "nice": false}, "axis": null},
                      "y2": {"datum": 0.0431}}},
        {"data": {"values": [{}]}, "mark": {"type": "point", "shape": "triangle-up", "filled": true, "color": "#ff0000", "size": 400, "angle": 170, "opacity": 1},
         "encoding": {"x": {"datum": 0.0513, "type": "quantitative", "scale": {"type": "log", "domain": [0.011, 200], "nice": false}, "axis": null},
                      "y": {"datum": 0.0431, "type": "quantitative", "scale": {"type": "log", "domain": [0.01, 40000], "nice": false}, "axis": null}}},
        {"data": {"values": [{}]}, "mark": {"type": "text", "text": "low Q²", "font": "Liberation Sans", "fontWeight": "bold", "fontSize": 41, "align": "left", "baseline": "alphabetic", "color": "#ff0000"},
         "encoding": {"x": {"datum": 0.0174, "type": "quantitative", "scale": {"type": "log", "domain": [0.011, 200], "nice": false}, "axis": null},
                      "y": {"datum": 0.01675, "type": "quantitative", "scale": {"type": "log", "domain": [0.01, 40000], "nice": false}, "axis": null}}}
      ]
    }
  ]
}
